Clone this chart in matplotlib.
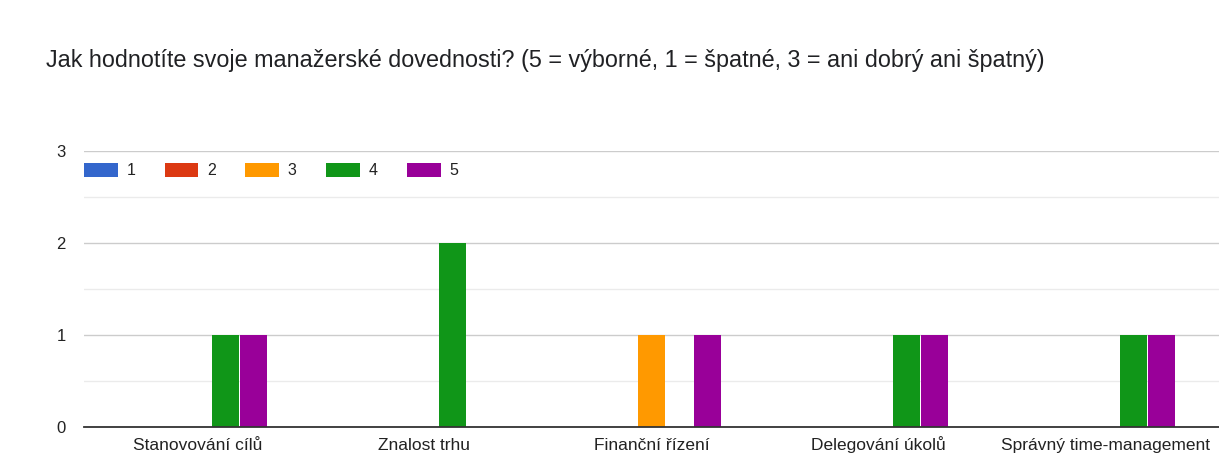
import numpy as np
import matplotlib.pyplot as plt
from matplotlib.patches import Patch

title = "Jak hodnotíte svoje manažerské dovednosti? (5 = výborné, 1 = špatné, 3 = ani dobrý ani špatný)"
categories = ["Stanovování cílů", "Znalost trhu", "Finanční řízení",
              "Delegování úkolů", "Správný time-management"]
ratings = ["1", "2", "3", "4", "5"]
counts_1 = [0, 0, 0, 0, 0]
counts_2 = [0, 0, 0, 0, 0]
counts_3 = [0, 0, 1, 0, 0]
counts_4 = [1, 2, 0, 1, 1]
counts_5 = [1, 0, 1, 1, 1]
colors = ["#3366cc", "#dc3912", "#ff9900", "#109618", "#990099"]

series = [counts_1, counts_2, counts_3, counts_4, counts_5]

plt.rcParams['font.family'] = ['Liberation Sans', 'DejaVu Sans']

fig = plt.figure(figsize=(12.19, 4.55), dpi=100)
ax = fig.add_axes([84 / 1219, 28 / 455, 1 - 84 / 1219, 276 / 455])

x = np.arange(len(categories))
step = 0.1233
width = 0.119
for i, (vals, col) in enumerate(zip(series, colors)):
    ax.bar(x + (i - 2) * step, vals, width, color=col, zorder=3)

ax.set_xlim(-0.5, len(categories) - 0.5)
ax.set_ylim(0, 3)
ax.set_yticks([0, 1, 2, 3])
ax.set_yticks([0.5, 1.5, 2.5], minor=True)
ax.grid(axis='y', which='major', color='#cccccc', lw=1, zorder=0)
ax.grid(axis='y', which='minor', color='#ebebeb', lw=1, zorder=0)
ax.set_xticks(x)
ax.set_xticklabels(categories, va='baseline')
ax.tick_params(axis='both', which='both', length=0, labelcolor='#222222')
ax.tick_params(axis='y', pad=13, labelsize=12)
ax.tick_params(axis='x', pad=16.5, labelsize=12.5)
for s in ['top', 'right', 'left']:
    ax.spines[s].set_visible(False)
ax.spines['bottom'].set_color('#333333')
ax.spines['bottom'].set_linewidth(1.3)
ax.spines['bottom'].set_zorder(4)

handles = [Patch(facecolor=c, edgecolor='none') for c in colors]
ax.legend(handles, ratings, loc='upper left', bbox_to_anchor=(0, 0.957), ncol=5,
          frameon=False, fontsize=11.5, handlelength=2.1, handleheight=0.95,
          handletextpad=0.55, columnspacing=1.85, borderaxespad=0, borderpad=0,
          labelcolor='#222222')

fig.text(46 / 1219, 1 - 61 / 455, title, fontsize=16.8, color='#202124', va='center', ha='left')

fig.savefig('out.png', dpi=100)
